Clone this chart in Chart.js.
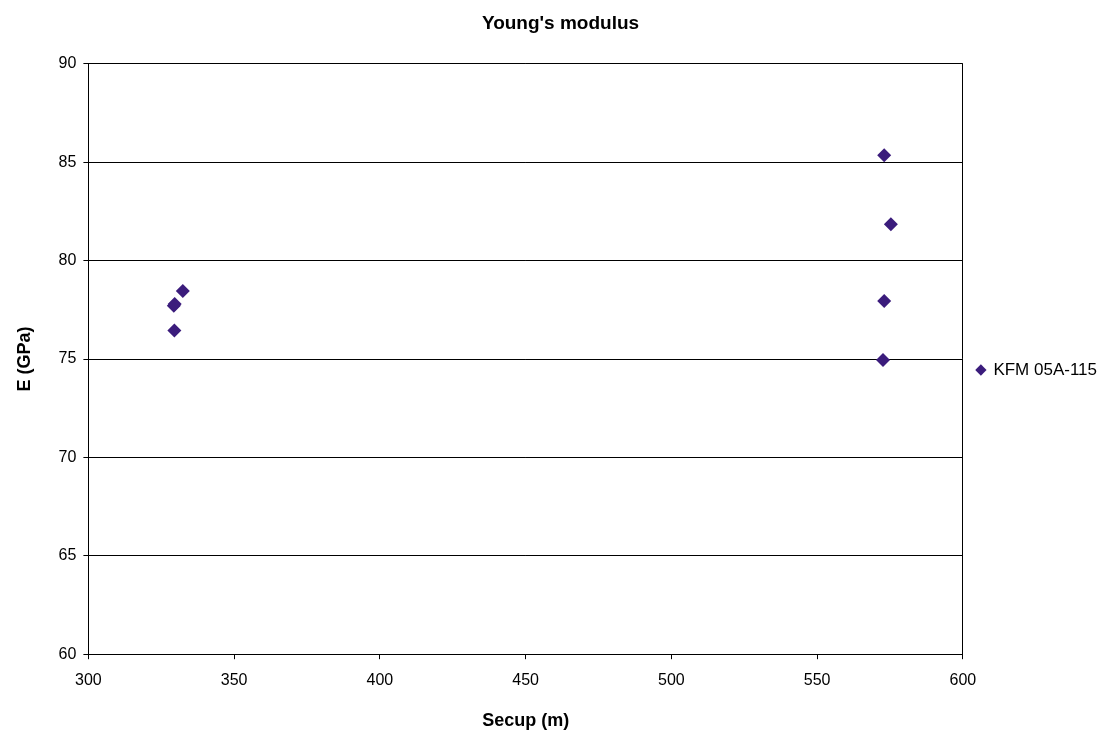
<!DOCTYPE html>
<html>
<head>
<meta charset="utf-8">
<script src="https://cdn.jsdelivr.net/npm/chart.js@4"></script>
<style>
  html, body { margin: 0; padding: 0; background: #fff; }
  #wrap { width: 1113px; height: 738px; }
</style>
</head>
<body>
<div id="wrap"><canvas id="chart"></canvas></div>
<script>
// Data
const seriesName = 'KFM 05A-115';
const secup = [332.4, 329.3, 329.6, 329.5, 573.0, 575.3, 573.0, 572.6];
const youngE = [78.45, 77.7, 77.8, 76.45, 85.35, 81.85, 77.95, 74.95];

const xMin = 300, xMax = 600, xStep = 50;
const yMin = 60, yMax = 90, yStep = 5;

const points = secup.map((x, i) => ({ x: x, y: youngE[i] }));
const markerColor = '#3b1c7c';

Chart.defaults.font.family = '"Liberation Sans", Arial, sans-serif';
Chart.defaults.color = '#000';

const ctx = document.getElementById('chart').getContext('2d');
new Chart(ctx, {
    type: 'scatter',
    data: {
        datasets: [{
            label: seriesName,
            data: points,
            pointStyle: 'rectRot',
            pointRadius: 7,
            pointHoverRadius: 7,
            backgroundColor: markerColor,
            borderColor: markerColor,
            borderWidth: 0
        }]
    },
    options: {
        responsive: true,
        maintainAspectRatio: false,
        animation: false,
        layout: {
            padding: { top: 8, right: 6, bottom: 6, left: 14 }
        },
        scales: {
            x: {
                type: 'linear',
                min: xMin,
                max: xMax,
                ticks: { stepSize: xStep, padding: 12, font: { size: 16 } },
                grid: {
                    color: (c) => (c.tick && c.tick.value === xMax) ? '#000' : 'rgba(0,0,0,0)',
                    tickColor: '#000',
                    tickLength: 5,
                    lineWidth: 1
                },
                border: { color: '#000', width: 1 },
                title: {
                    display: true,
                    text: 'Secup (m)',
                    font: { size: 18, weight: 'bold' },
                    padding: { top: 8, bottom: 0 }
                }
            },
            y: {
                min: yMin,
                max: yMax,
                ticks: { stepSize: yStep, padding: 7, font: { size: 16 } },
                grid: {
                    color: '#000',
                    tickColor: '#000',
                    tickLength: 5,
                    lineWidth: 1
                },
                border: { color: '#000', width: 1 },
                title: {
                    display: true,
                    text: 'E (GPa)',
                    font: { size: 18, weight: 'bold' },
                    padding: { top: 0, bottom: 16 }
                }
            }
        },
        plugins: {
            title: {
                display: true,
                text: "Young's modulus",
                font: { size: 19, weight: 'bold' },
                padding: { top: 4, bottom: 29 }
            },
            legend: {
                display: true,
                position: 'right',
                labels: {
                    usePointStyle: true,
                    pointStyle: 'rectRot',
                    boxWidth: 8,
                    boxHeight: 8,
                    padding: 14,
                    font: { size: 17 },
                    color: '#000'
                }
            },
            tooltip: { enabled: false }
        }
    }
});
</script>
</body>
</html>
